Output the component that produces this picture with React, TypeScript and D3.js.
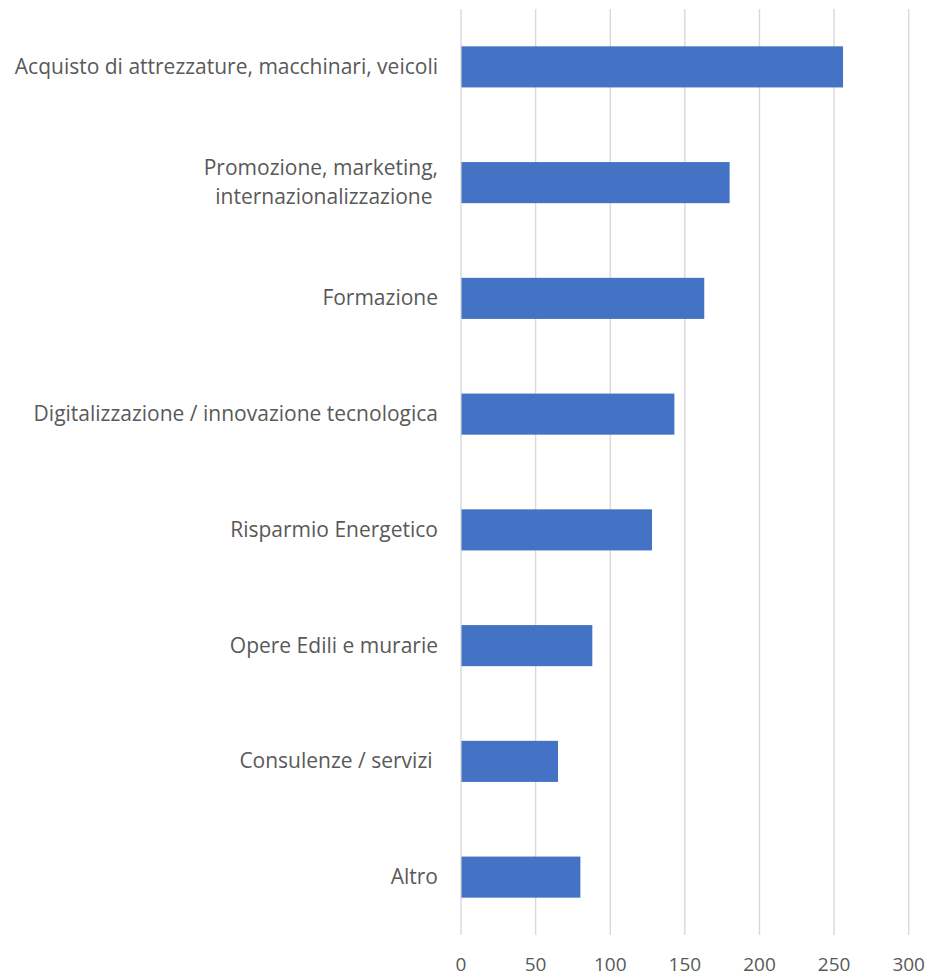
import React from "react";
import * as d3 from "d3";

const categories: string[][] = [
  ["Acquisto di attrezzature, macchinari, veicoli"],
  ["Promozione, marketing,", "internazionalizzazione "],
  ["Formazione"],
  ["Digitalizzazione / innovazione tecnologica"],
  ["Risparmio Energetico"],
  ["Opere Edili e murarie"],
  ["Consulenze / servizi "],
  ["Altro"],
];
const values: number[] = [256, 180, 163, 143, 128, 88, 65, 80];
const ticks: number[] = [0, 50, 100, 150, 200, 250, 300];

const W = 930;
const H = 976;
const left = 461;
const right = 908.7;
const top = 9;
const bottom = 935;

export default function App() {
  const x = d3.scaleLinear().domain([0, 300]).range([left, right]);
  const keys = categories.map((_, i) => String(i));
  const y = d3.scaleBand<string>().domain(keys).range([top, bottom]).paddingInner(0.645).paddingOuter(0.3225);
  const font = "'Open Sans', Lato, sans-serif";
  const textColor = "#595959";
  return (
    <svg width={W} height={H} style={{ position: "absolute", left: 0, top: 0, background: "#fff" }}>
      {ticks.map((t) => (
        <line key={"g" + t} x1={x(t)} x2={x(t)} y1={top} y2={bottom} stroke="#d9d9d9" strokeWidth={1.4} />
      ))}
      {values.map((v, i) => (
        <rect key={"b" + i} x={x(0) + 0.5} y={y(keys[i])!} width={x(v) - x(0) - 0.5} height={y.bandwidth()} fill="#4472c4" />
      ))}
      {categories.map((lines, i) => {
        const cy = y(keys[i])! + y.bandwidth() / 2;
        const n = lines.length;
        return (
          <text key={"c" + i} x={438} textAnchor="end" fontFamily={font} fontSize={21} fill={textColor} style={{ whiteSpace: "pre" }}>
            {lines.map((l, j) => (
              <tspan key={j} x={438} y={cy + 7 + (j - (n - 1) / 2) * 29}>{l}</tspan>
            ))}
          </text>
        );
      })}
      {ticks.map((t) => (
        <text key={"t" + t} x={x(t)} y={971} textAnchor="middle" fontFamily={font} fontSize={19} fill={textColor}>
          {t}
        </text>
      ))}
    </svg>
  );
}
